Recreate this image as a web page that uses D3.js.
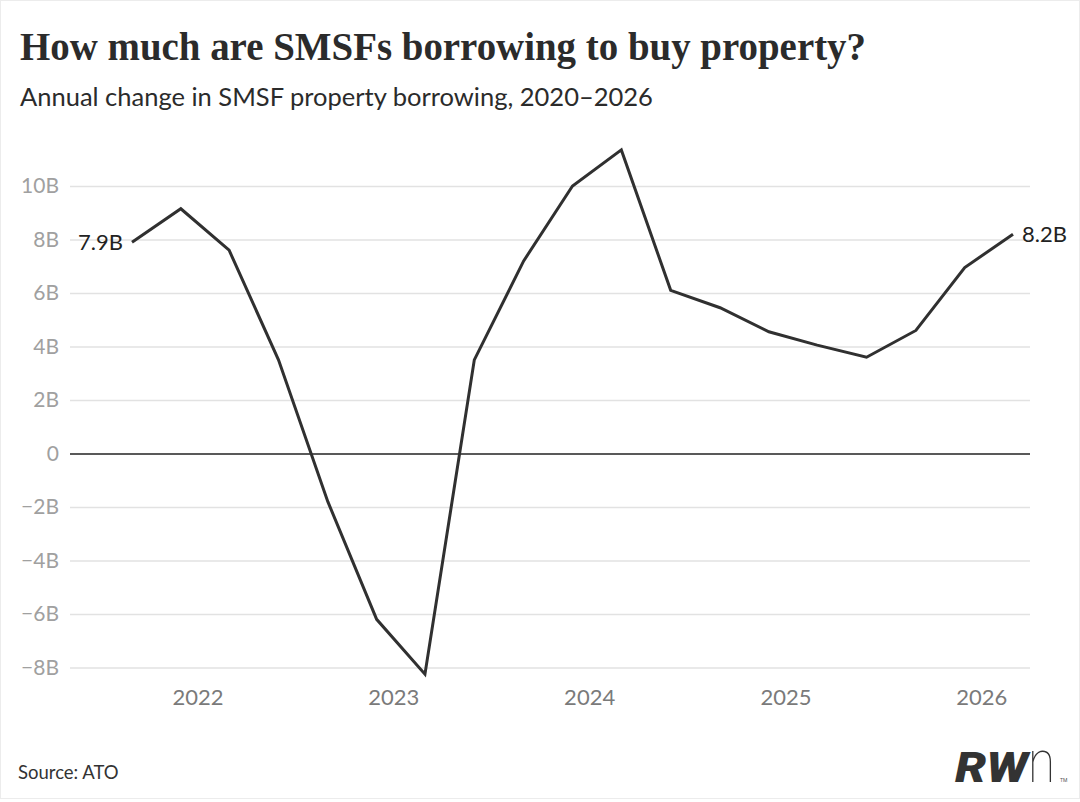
<!DOCTYPE html>
<html lang="en">
  <head>
    <meta charset="utf-8" />
    <title>SMSF property borrowing</title>
    <script src="https://d3js.org/d3.v7.min.js"></script>
    <style>
      body { margin: 0; background: #fff; }
    </style>
  </head>
  <body>
    <div id="chart"></div>
    <script>
      // quarterly readings (first day of month), values in $B
      var dates = [
        "2021-09-01", "2021-12-01", "2022-03-01", "2022-06-01", "2022-09-01",
        "2022-12-01", "2023-03-01", "2023-06-01", "2023-09-01", "2023-12-01",
        "2024-03-01", "2024-06-01", "2024-09-01", "2024-12-01", "2025-03-01",
        "2025-06-01", "2025-09-01", "2025-12-01", "2026-03-01"
      ];
      var values = [
        7.9, 9.15, 7.6, 3.5, -1.8,
        -6.2, -8.25, 3.5, 7.2, 10.0,
        11.35, 6.1, 5.45, 4.55, 4.05,
        3.6, 4.6, 6.95, 8.2
      ];
      var yTicks = [-8, -6, -4, -2, 0, 2, 4, 6, 8, 10];
      var xTickYears = [2022, 2023, 2024, 2025, 2026];

      var width = 1080;
      var height = 802;

      var data = dates.map(function (d, i) {
        return { date: d3.timeParse("%Y-%m-%d")(d), value: values[i] };
      });

      var svg = d3
        .select("#chart")
        .append("svg")
        .attr("width", width)
        .attr("height", height);

      // faint frame round the card
      svg
        .append("rect")
        .attr("x", 0.5)
        .attr("y", 0.5)
        .attr("width", width - 1)
        .attr("height", height - 4)
        .attr("fill", "none")
        .attr("stroke", "#ececec");

      var x = d3
        .scaleTime()
        .domain(d3.extent(data, function (d) { return d.date; }))
        .range([132, 1013]);

      var y = d3.scaleLinear().domain([-8, 10]).range([667.5, 186]);

      // gridlines + y labels
      var yAxis = svg
        .append("g")
        .attr("transform", "translate(70,0)")
        .call(
          d3
            .axisLeft(y)
            .tickValues(yTicks)
            .tickSize(-960)
            .tickPadding(11)
            .tickFormat(function (d) {
              return d === 0 ? "0" : (d < 0 ? "\u2212" + Math.abs(d) : d) + "B";
            })
        );
      yAxis.select(".domain").remove();
      yAxis
        .selectAll(".tick line")
        .attr("stroke", function (d) { return d === 0 ? "#222" : "#e2e2e2"; })
        .attr("stroke-width", function (d) { return d === 0 ? 1.6 : 1.5; });
      yAxis
        .selectAll(".tick text")
        .attr("fill", "#a0a0a0")
        .style("font-family", "Lato, 'Noto Sans', sans-serif")
        .style("font-size", "21px");

      // x labels
      var xAxis = svg
        .append("g")
        .attr("transform", "translate(0,682)")
        .call(
          d3
            .axisBottom(x)
            .tickValues(xTickYears.map(function (yr) { return new Date(yr, 0, 1); }))
            .tickSize(0)
            .tickPadding(7)
            .tickFormat(d3.timeFormat("%Y"))
        );
      xAxis.select(".domain").remove();
      xAxis
        .selectAll(".tick text")
        .attr("fill", "#7a7a7a")
        .style("font-family", "Lato, 'Noto Sans', sans-serif")
        .style("font-size", "22px");

      // the line
      svg
        .append("path")
        .datum(data)
        .attr("fill", "none")
        .attr("stroke", "#303030")
        .attr("stroke-width", 3)
        .attr("stroke-linejoin", "miter")
        .attr(
          "d",
          d3
            .line()
            .x(function (d) { return x(d.date); })
            .y(function (d) { return y(d.value); })
        );

      // end labels
      var first = data[0];
      var last = data[data.length - 1];
      svg
        .append("text")
        .attr("x", x(first.date) - 9)
        .attr("y", y(first.value))
        .attr("dy", "0.35em")
        .attr("text-anchor", "end")
        .attr("fill", "#222")
        .style("font-family", "Lato, 'Noto Sans', sans-serif")
        .style("font-size", "22px")
        .text(first.value.toFixed(1) + "B");
      svg
        .append("text")
        .attr("x", x(last.date) + 9)
        .attr("y", y(last.value))
        .attr("dy", "0.35em")
        .attr("fill", "#222")
        .style("font-family", "Lato, 'Noto Sans', sans-serif")
        .style("font-size", "22px")
        .text(last.value.toFixed(1) + "B");

      // title block
      svg
        .append("text")
        .attr("x", 20)
        .attr("y", 60)
        .attr("fill", "#2b2b2b")
        .attr("textLength", 846)
        .attr("lengthAdjust", "spacingAndGlyphs")
        .style("font-family", "'Liberation Serif', 'DejaVu Serif', serif")
        .style("font-weight", "bold")
        .style("font-size", "39px")
        .text("How much are SMSFs borrowing to buy property?");

      svg
        .append("text")
        .attr("x", 20)
        .attr("y", 106)
        .attr("fill", "#2b2b2b")
        .style("font-family", "Lato, 'Noto Sans', sans-serif")
        .style("font-size", "25.5px")
        .text("Annual change in SMSF property borrowing, 2020\u20132026");

      svg
        .append("text")
        .attr("x", 18)
        .attr("y", 779)
        .attr("fill", "#333")
        .style("font-family", "Lato, 'Noto Sans', sans-serif")
        .style("font-size", "18.5px")
        .text("Source: ATO");

      // RWn mark
      svg
        .append("text")
        .attr("x", 955)
        .attr("y", 782)
        .attr("fill", "#333")
        .attr("textLength", 73)
        .attr("lengthAdjust", "spacingAndGlyphs")
        .style("font-family", "Roboto, 'Liberation Sans', sans-serif")
        .style("font-weight", "900")
        .style("font-style", "italic")
        .style("font-size", "43px")
        .text("RW");
      svg
        .append("text")
        .attr("transform", "translate(1028,782) scale(1.15,1.38)")
        .attr("fill", "#333")
        .style("font-family", "Roboto, 'Liberation Sans', sans-serif")
        .style("font-weight", "100")
        .style("font-size", "43px")
        .text("n");
      svg
        .append("text")
        .attr("x", 1060)
        .attr("y", 782)
        .attr("fill", "#555")
        .style("font-family", "Roboto, sans-serif")
        .style("font-size", "5px")
        .text("TM");
    </script>
  </body>
</html>
